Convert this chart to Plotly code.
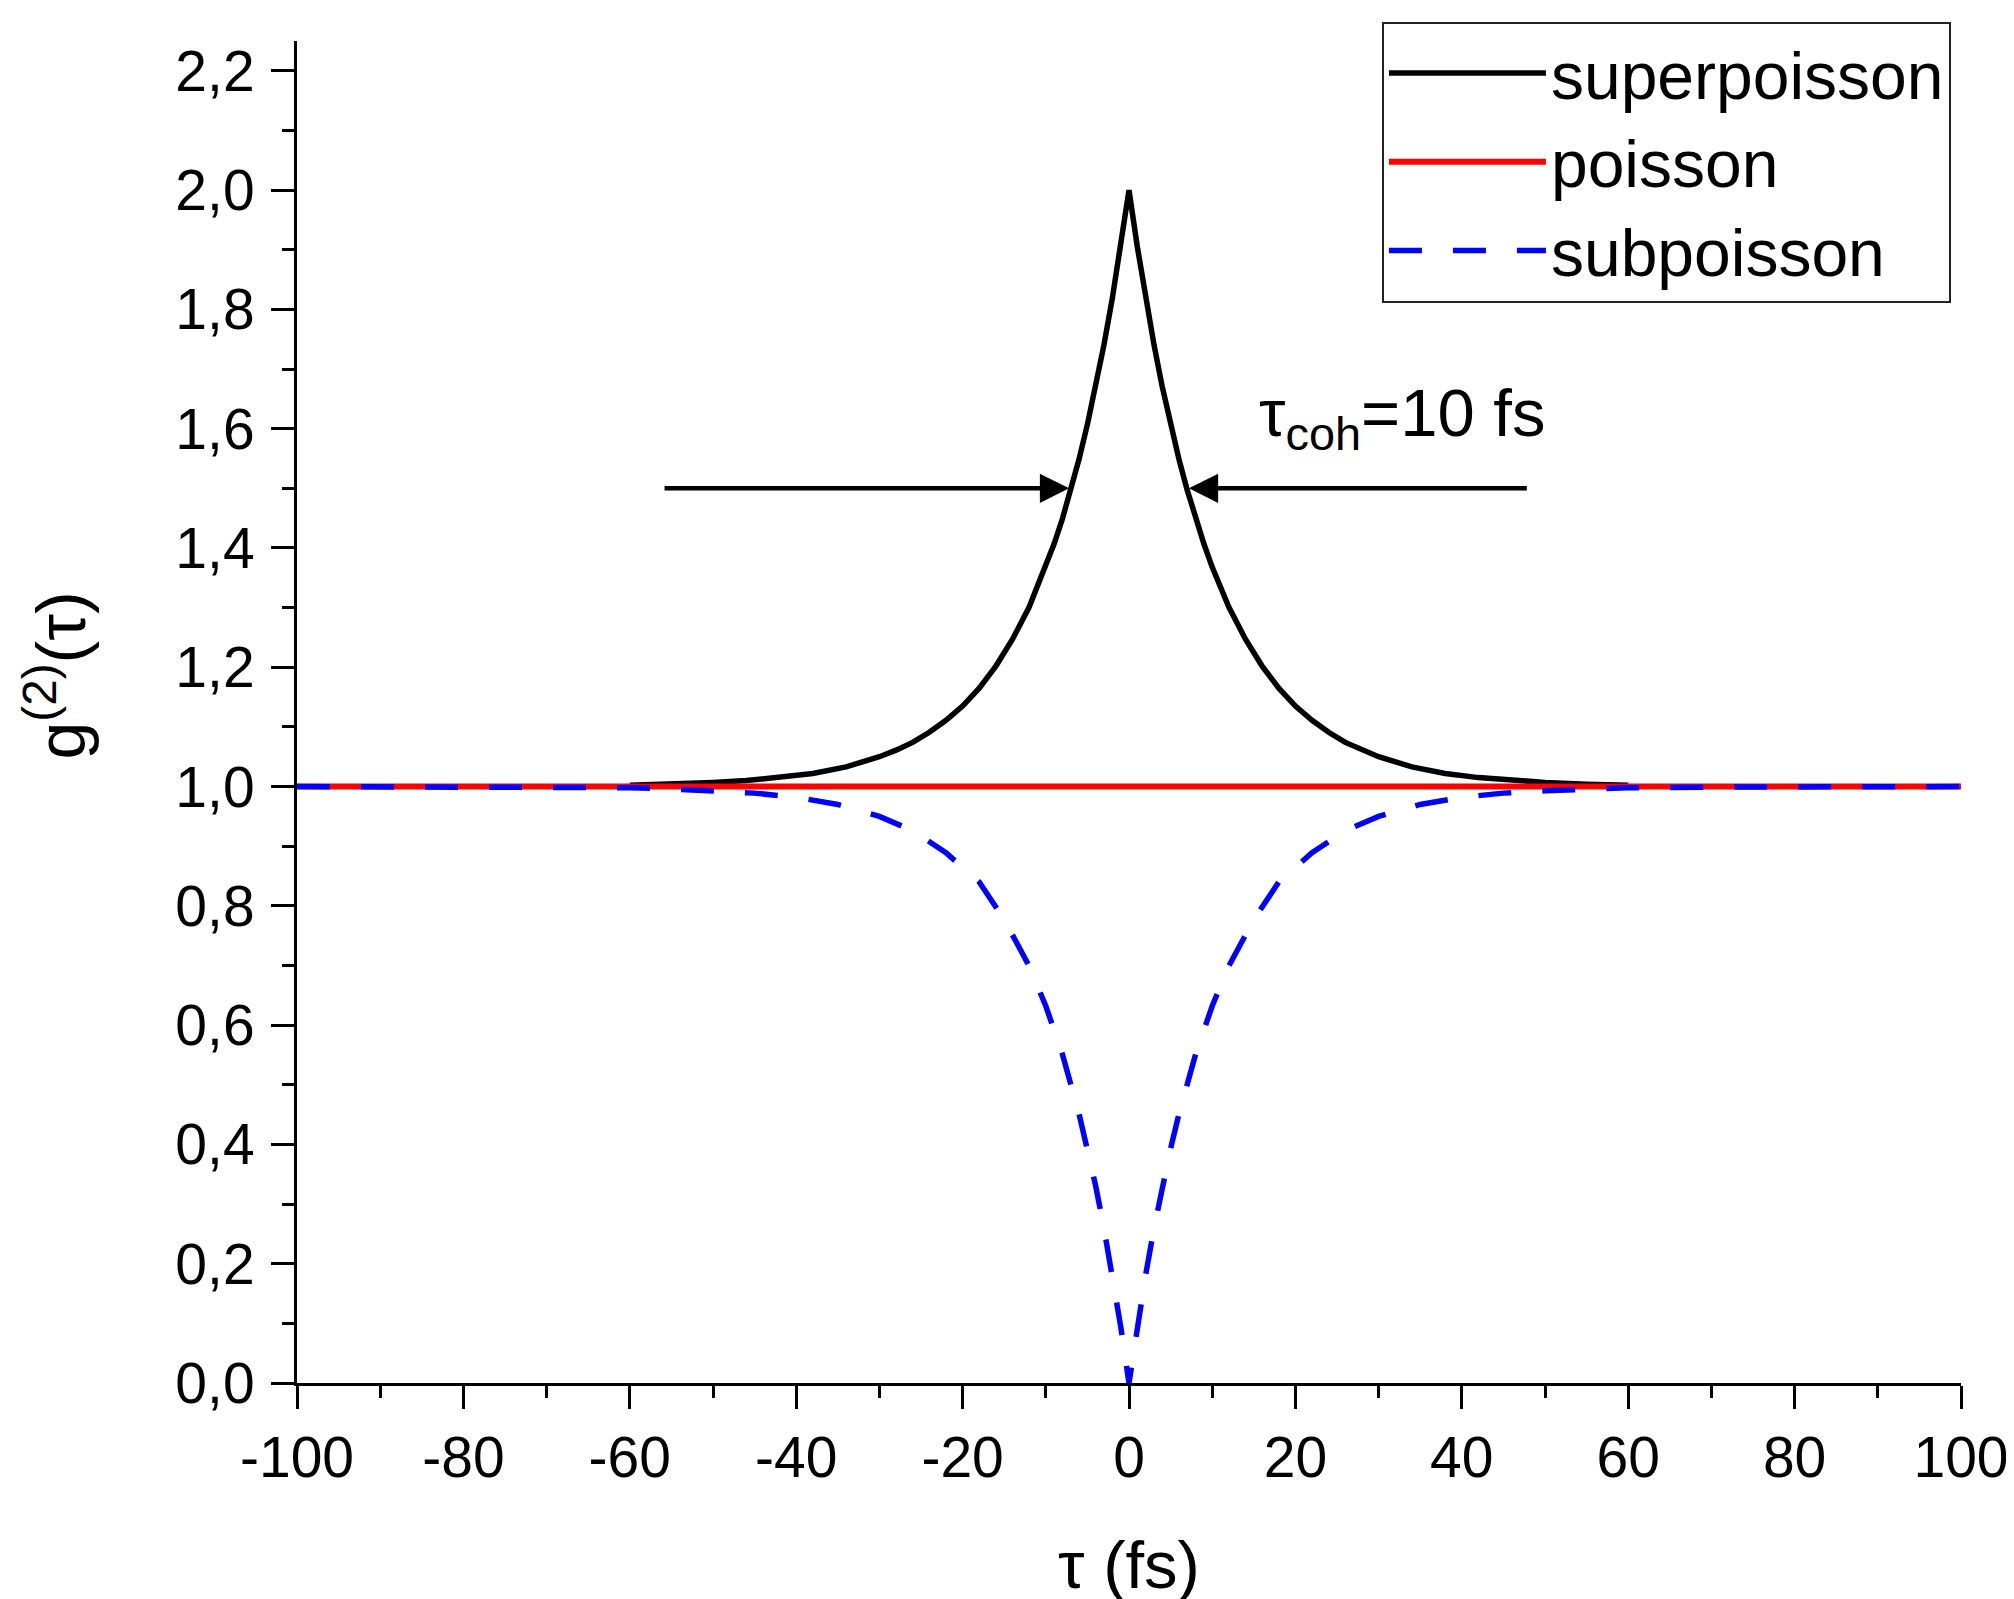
import plotly.graph_objects as go

# --- data ---
tau_super = [-60, -55, -50, -46, -42, -38, -34, -30, -28, -26, -24, -22, -20, -18, -16, -14, -12, -10,
             -9, -8, -7, -6, -5, -4, -3, -2, -1, 0, 1, 2, 3, 4, 5, 6, 7, 8, 9,
             10, 12, 14, 16, 18, 20, 22, 24, 26, 28, 30, 34, 38, 42, 46, 50, 55, 60]
g_super = [1.002, 1.004, 1.007, 1.010, 1.015, 1.022, 1.033, 1.050, 1.061, 1.074, 1.091, 1.111, 1.135,
           1.165, 1.202, 1.247, 1.301, 1.368, 1.407, 1.449, 1.497, 1.549, 1.607, 1.670, 1.741, 1.819,
           1.905, 2.000, 1.905, 1.819, 1.741, 1.670, 1.607, 1.549, 1.497, 1.449, 1.407, 1.368, 1.301,
           1.247, 1.202, 1.165, 1.135, 1.111, 1.091, 1.074, 1.061, 1.050, 1.033, 1.022, 1.015, 1.010,
           1.007, 1.004, 1.002]

tau_poisson = [-100, 100]
g_poisson = [1.0, 1.0]

tau_sub = [-100, -90, -80, -70, -60, -55, -50, -45, -40, -35, -30, -26, -22, -18, -15, -12, -10,
           -8, -6, -5, -4, -3, -2, -1, 0, 1, 2, 3, 4, 5, 6, 8, 10, 12, 15, 18, 22, 26, 30,
           35, 40, 45, 50, 55, 60, 70, 80, 90, 100]
g_sub = [1.000, 1.000, 1.000, 0.999, 0.998, 0.996, 0.993, 0.989, 0.982, 0.970, 0.950, 0.926, 0.889,
         0.840, 0.777, 0.699, 0.632, 0.551, 0.451, 0.393, 0.330, 0.259, 0.181, 0.095, 0.000, 0.095,
         0.181, 0.259, 0.330, 0.393, 0.451, 0.551, 0.632, 0.699, 0.777, 0.840, 0.889, 0.926, 0.950,
         0.970, 0.982, 0.989, 0.993, 0.996, 0.998, 0.999, 1.000, 1.000, 1.000]

series_names = ["superpoisson", "poisson", "subpoisson"]

x_tickvals = [-100, -80, -60, -40, -20, 0, 20, 40, 60, 80, 100]
x_ticktext = ["-100", "-80", "-60", "-40", "-20", "0", "20", "40", "60", "80", "100"]

# coherence-time arrows (tail x, head x) at level 1.5
arrow_level = 1.5
arrow_left = (-56.0, -7.2)
arrow_right = (48.0, 7.2)
coh_label = "τ<sub>coh</sub>=10 fs"

FONT = "Arial, Liberation Sans, sans-serif"

fig = go.Figure()
fig.add_trace(go.Scatter(x=tau_super, y=g_super, mode="lines", name=series_names[0],
                         line=dict(color="black", width=5.5)))
fig.add_trace(go.Scatter(x=tau_poisson, y=g_poisson, mode="lines", name=series_names[1],
                         line=dict(color="#ff0000", width=6)))
fig.add_trace(go.Scatter(x=tau_sub, y=g_sub, mode="lines", name=series_names[2],
                         line=dict(color="#0000ff", width=5.5, dash="33px,31px")))

for tail, head in (arrow_left, arrow_right):
    fig.add_annotation(x=head, y=arrow_level, ax=tail, ay=arrow_level, xref="x", yref="y",
                       axref="x", ayref="y", text="", showarrow=True, arrowhead=2,
                       arrowsize=1.3, arrowwidth=4.5, arrowcolor="black")

fig.add_annotation(x=32.8, y=1.618, xref="x", yref="y", text=coh_label, showarrow=False,
                   font=dict(family=FONT, size=67, color="black"), xanchor="center", yanchor="middle")

# y-axis title placed as rotated annotation
fig.add_annotation(x=-0.145, y=0.527, xref="paper", yref="paper",
                   text="g<sup>(2)</sup>(τ)", textangle=-90, showarrow=False,
                   font=dict(family=FONT, size=68, color="black"),
                   xanchor="center", yanchor="middle")

fig.update_layout(
    width=2014, height=1599,
    margin=dict(l=289, r=61, t=33, b=224, autoexpand=False),
    plot_bgcolor="white", paper_bgcolor="white",
    separators=",.",
    font=dict(family=FONT, color="black"),
    showlegend=True,
    legend=dict(x=0.652, y=1.0145, xanchor="left", yanchor="top",
                bordercolor="#222", borderwidth=2, bgcolor="white",
                font=dict(family=FONT, size=66, color="black"),
                itemwidth=157, tracegroupgap=0, entrywidth=430, entrywidthmode="pixels"),
    xaxis=dict(range=[-100, 100], tickmode="array", tickvals=x_tickvals, ticktext=x_ticktext,
               showline=True, linecolor="black", automargin=False,
               linewidth=3, ticks="outside", ticklen=23, tickwidth=3, tickcolor="black",
               showgrid=False, zeroline=False, ticklabelstandoff=0,
               tickfont=dict(family=FONT, size=57, color="black"),
               minor=dict(dtick=10, ticks="outside", ticklen=12, tickwidth=3, tickcolor="black",
                          showgrid=False),
               title=dict(text="τ (fs)", font=dict(family=FONT, size=67, color="black"),
                          standoff=53)),
    yaxis=dict(range=[0, 2.25], dtick=0.2, tick0=0, tickformat=".1f", showline=True,
               linecolor="black", linewidth=3, ticks="outside", ticklen=23, tickwidth=3,
               automargin=False,
               tickcolor="black", showgrid=False, zeroline=False, ticklabelstandoff=5,
               tickfont=dict(family=FONT, size=57, color="black"),
               minor=dict(dtick=0.1, ticks="outside", ticklen=12, tickwidth=3, tickcolor="black",
                          showgrid=False)),
)

fig.write_html("out.html")
